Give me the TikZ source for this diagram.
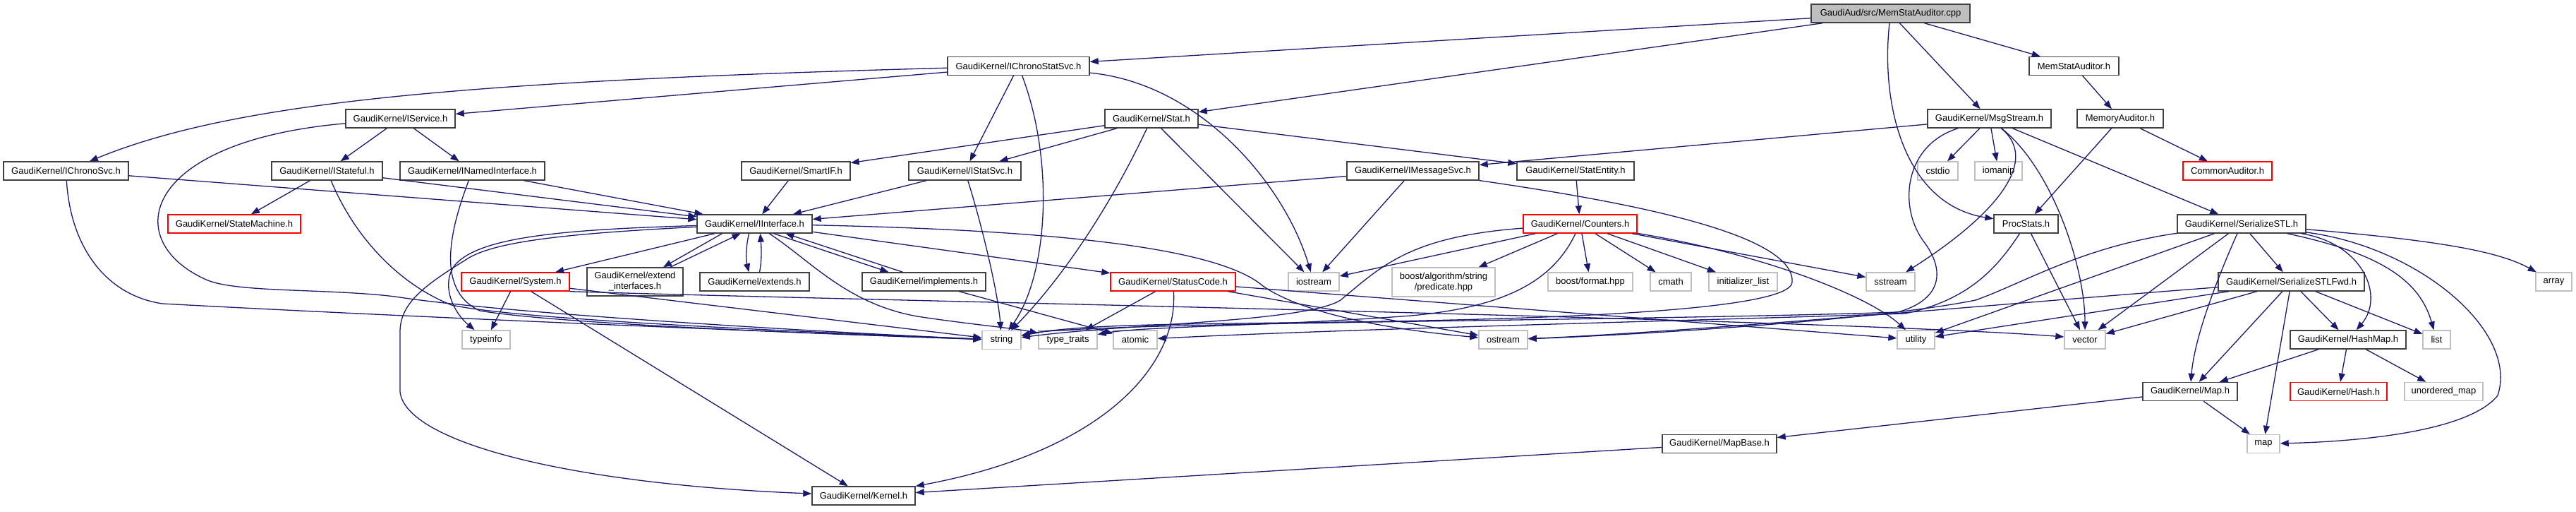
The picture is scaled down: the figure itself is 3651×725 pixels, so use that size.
\documentclass[tikz,border=0pt]{standalone}
\usepackage{fontspec}
\setmainfont{Liberation Sans}
\usetikzlibrary{arrows.meta}
\definecolor{edgeblue}{HTML}{191970}
\definecolor{greyline}{HTML}{BFBFBF}
\definecolor{redline}{HTML}{FF0000}
\definecolor{boxline}{HTML}{404040}
\definecolor{rootfill}{HTML}{BFBFBF}
\begin{document}
\begin{tikzpicture}[x=1pt,y=-1pt,
 nd/.style={draw=boxline, line width=1.4pt, fill=white, inner sep=0pt, font=\fontsize{13}{15}\selectfont, minimum height=26pt, align=center},
 sysn/.style={nd, draw=greyline},
 trn/.style={nd, draw=redline},
 dep/.style={draw=edgeblue, line width=1.3pt, -{Triangle[length=12pt,width=9pt]}},
]
\useasboundingbox[fill=white] (0,0) rectangle (3651,725);

% ---------- nodes ----------
\node[nd, fill=rootfill, minimum width=225pt] (root) at (2679.5,19) {GaudiAud/src/MemStatAuditor.cpp};
\node[nd, minimum width=201pt] (icss) at (1443.5,93.5) {GaudiKernel/IChronoStatSvc.h};
\node[nd, minimum width=127pt] (msah) at (2939.5,93.5) {MemStatAuditor.h};
\node[nd, minimum width=155pt] (isvc) at (567.5,168) {GaudiKernel/IService.h};
\node[nd, minimum width=132pt] (stat) at (1632,168) {GaudiKernel/Stat.h};
\node[nd, minimum width=175pt] (msg) at (2819.5,168) {GaudiKernel/MsgStream.h};
\node[nd, minimum width=122pt] (mema) at (3005,168) {MemoryAuditor.h};
\node[nd, minimum width=177pt] (icsvc) at (93.5,242) {GaudiKernel/IChronoSvc.h};
\node[nd, minimum width=157pt] (istf) at (463.5,242) {GaudiKernel/IStateful.h};
\node[nd, minimum width=205pt] (inam) at (669.5,242) {GaudiKernel/INamedInterface.h};
\node[nd, minimum width=154pt] (smart) at (1128,242) {GaudiKernel/SmartIF.h};
\node[nd, minimum width=159pt] (istat) at (1367.5,242) {GaudiKernel/IStatSvc.h};
\node[nd, minimum width=187pt] (imsg) at (2002.5,242) {GaudiKernel/IMessageSvc.h};
\node[nd, minimum width=166pt] (sent) at (2233,242) {GaudiKernel/StatEntity.h};
\node[sysn, minimum width=57pt] (cstdio) at (2746.5,242) {cstdio};
\node[sysn, minimum width=67pt] (iomanip) at (2832.5,242) {iomanip};
\node[trn, minimum width=126pt] (comm) at (3157,242) {CommonAuditor.h};
\node[trn, minimum width=188pt] (smach) at (332,317) {GaudiKernel/StateMachine.h};
\node[nd, minimum width=163pt] (iif) at (1069.5,317) {GaudiKernel/IInterface.h};
\node[trn, minimum width=161pt] (count) at (2239.5,317) {GaudiKernel/Counters.h};
\node[nd, minimum width=91pt] (proc) at (2871.5,317) {ProcStats.h};
\node[nd, minimum width=182pt] (sstl) at (3177,317) {GaudiKernel/SerializeSTL.h};
\node[trn, minimum width=153pt] (sys) at (730.5,399) {GaudiKernel/System.h};
\node[nd, minimum width=136pt, minimum height=40pt] (extif) at (900,399) {GaudiKernel/extend\\\_interfaces.h};
\node[nd, minimum width=155pt] (exts) at (1069.5,399) {GaudiKernel/extends.h};
\node[nd, minimum width=175pt] (impl) at (1309.5,399) {GaudiKernel/implements.h};
\node[trn, minimum width=177pt] (stc) at (1662.5,399) {GaudiKernel/StatusCode.h};
\node[sysn, minimum width=72pt] (iostr) at (1862,399) {iostream};
\node[sysn, minimum width=146pt, minimum height=41pt] (pred) at (2046,399.5) {boost/algorithm/string\\/predicate.hpp};
\node[sysn, minimum width=120pt] (fmt) at (2254,399) {boost/format.hpp};
\node[sysn, minimum width=58pt] (cmath) at (2368,399) {cmath};
\node[sysn, minimum width=97pt] (initl) at (2470.5,399) {initializer\_list};
\node[sysn, minimum width=69pt] (sstr) at (2679.5,399) {sstream};
\node[nd, minimum width=207pt] (sfwd) at (3247.5,399) {GaudiKernel/SerializeSTLFwd.h};
\node[sysn, minimum width=51pt] (arr) at (3619.5,399) {array};
\node[sysn, minimum width=68pt] (tinfo) at (689,481) {typeinfo};
\node[sysn, minimum width=55pt] (str) at (1419.5,481.5) {string};
\node[sysn, minimum width=83pt] (ttr) at (1513.5,481) {type\_traits};
\node[sysn, minimum width=62pt] (atom) at (1609,481) {atomic};
\node[sysn, minimum width=69pt] (ostr) at (2130.5,481) {ostream};
\node[sysn, minimum width=53pt] (util) at (2715.5,481) {utility};
\node[sysn, minimum width=58pt] (vec) at (2955,481) {vector};
\node[nd, minimum width=164pt] (hmap) at (3328,481) {GaudiKernel/HashMap.h};
\node[sysn, minimum width=39pt] (lst) at (3453.5,481) {list};
\node[nd, minimum width=134pt] (gmap) at (3104,554.5) {GaudiKernel/Map.h};
\node[trn, minimum width=137pt] (hash) at (3314.5,554.5) {GaudiKernel/Hash.h};
\node[sysn, minimum width=111pt] (umap) at (3463.5,554.5) {unordered\_map};
\node[nd, minimum width=162pt] (mapb) at (2437,628.5) {GaudiKernel/MapBase.h};
\node[sysn, minimum width=46pt] (smap) at (3208,628.5) {map};
\node[nd, minimum width=146pt] (kern) at (1224,702) {GaudiKernel/Kernel.h};

% ---------- edges ----------
% root
\draw[dep] (root) -- (icss);
\draw[dep] (root) -- (stat);
\draw[dep] (root) -- (msg);
\draw[dep] (root) -- (msah);
\draw[dep] (root) .. controls (2665,150) and (2700,290) .. (proc);
% IChronoStatSvc
\draw[dep] (icss) -- (isvc);
\draw[dep] (icss) .. controls (650,115) and (330,145) .. (icsvc);
\draw[dep] (icss) -- (istat);
\draw[dep] (icss) .. controls (1495,230) and (1485,390) .. (str);
\draw[dep] (icss) .. controls (1700,118) and (1820,260) .. (iostr);
% Stat
\draw[dep] (stat) -- (smart);
\draw[dep] (stat) -- (istat);
\draw[dep] (stat) -- (sent);
\draw[dep] (stat) .. controls (1570,300) and (1500,400) .. (str);
\draw[dep] (stat) -- (iostr);
% MsgStream
\draw[dep] (msg) -- (imsg);
\draw[dep] (msg) -- (cstdio);
\draw[dep] (msg) -- (iomanip);
\draw[dep] (msg) -- (sstl);
\draw[dep] (msg) .. controls (2895,230) and (2820,310) .. (sstr);
\draw[dep] (msg) .. controls (2910,240) and (2955,380) .. (vec);
\draw[dep] (msg) .. controls (2700,205) and (2690,290) .. (2725,340) .. controls (2760,385) and (2750,425) .. (2690,442) .. controls (2300,455) and (1530,456) .. (str);
% auditors
\draw[dep] (msah) -- (mema);
\draw[dep] (mema) -- (comm);
\draw[dep] (mema) -- (proc);
\draw[dep] (proc) -- (vec);
\draw[dep] (proc) .. controls (2830,380) and (2790,425) .. (2700,444) .. controls (2400,454) and (1900,466) .. (atom);
% IMessageSvc
\draw[dep] (imsg) -- (iif);
\draw[dep] (imsg) -- (iostr);
\draw[dep] (imsg) .. controls (2300,285) and (2545,330) .. (2540,400) .. controls (2535,440) and (2200,452) .. (1900,456) .. controls (1700,459) and (1530,458) .. (str);
\draw[dep] (sent) -- (count);
% Counters
\draw[dep] (count) -- (iostr);
\draw[dep] (count) .. controls (2000,335) and (1960,375) .. (1900,425) .. controls (1850,456) and (1600,458) .. (str);
\draw[dep] (count) -- (pred);
\draw[dep] (count) .. controls (2200,400) and (2130,435) .. (2000,447) .. controls (1800,462) and (1620,462) .. (ttr);
\draw[dep] (count) -- (fmt);
\draw[dep] (count) -- (cmath);
\draw[dep] (count) -- (initl);
\draw[dep] (count) -- (sstr);
\draw[dep] (count) .. controls (2500,360) and (2650,420) .. (util);
% upper left interfaces
\draw[dep] (isvc) -- (istf);
\draw[dep] (isvc) -- (inam);
\draw[dep] (isvc) .. controls (200,200) and (170,340) .. (290,395) .. controls (330,415) and (460,408) .. (560,420) .. controls (720,445) and (1200,472) .. (str);
\draw[dep] (icsvc) -- (iif);
\draw[dep] (icsvc) .. controls (100,350) and (150,418) .. (230,430) .. controls (600,450) and (1100,470) .. (str);
\draw[dep] (istf) -- (smach);
\draw[dep] (istf) -- (iif);
\draw[dep] (istf) .. controls (500,330) and (560,400) .. (640,432) .. controls (750,455) and (1200,472) .. (str);
\draw[dep] (inam) -- (iif);
\draw[dep] (inam) .. controls (640,320) and (615,410) .. (680,440) .. controls (800,460) and (1200,474) .. (str);
\draw[dep] (smart) -- (iif);
\draw[dep] (istat) -- (iif);
\draw[dep] (istat) .. controls (1395,330) and (1415,420) .. (str);
% IInterface
\draw[dep] (iif) -- (sys);
\draw[dep] ([xshift=-46pt]iif.south) -- ([xshift=40pt]extif.north);
\draw[dep] ([xshift=50pt]extif.north) -- ([xshift=-20pt]iif.south);
\draw[dep] ([xshift=-8pt]iif.south) .. controls (1057,350) and (1057,368) .. ([xshift=-8pt]exts.north);
\draw[dep] ([xshift=7pt]exts.north) .. controls (1080,368) and (1079,350) .. ([xshift=8pt]iif.south);
\draw[dep] ([xshift=27pt]iif.south) -- ([xshift=-50pt]impl.north);
\draw[dep] ([xshift=-30pt]impl.north) -- ([xshift=44pt]iif.south);
\draw[dep] (iif) .. controls (1150,370) and (1200,430) .. (1300,448) .. controls (1380,460) and (1440,465) .. (ttr);
\draw[dep] (iif) .. controls (1450,325) and (1720,345) .. (1790,405) .. controls (1840,440) and (1950,465) .. (ostr);
\draw[dep] (iif) -- (stc);
\draw[dep] (iif) .. controls (800,325) and (680,335) .. (645,375) .. controls (625,400) and (640,440) .. (tinfo);
\draw[dep] (iif) .. controls (820,330) and (700,340) .. (660,368) .. controls (600,405) and (567,430) .. (567,470) -- (567,555) .. controls (575,625) and (800,685) .. (kern);
\draw[dep] (impl) -- (atom);
% System
\draw[dep] (sys) -- (tinfo);
\draw[dep] (sys) -- (kern);
\draw[dep] (sys) -- (str);
\draw[dep] (sys.south east) .. controls (1200,425) and (2600,452) .. ([yshift=4pt]vec.west);
% StatusCode
\draw[dep] (stc) -- (ttr);
\draw[dep] (stc) .. controls (1670,520) and (1560,640) .. (kern);
\draw[dep] (stc) -- (ostr);
\draw[dep] (stc) -- (util);
% SerializeSTL
\draw[dep] (sstl) -- (sfwd);
\draw[dep] (sstl) -- (util);
\draw[dep] (sstl) -- (vec);
\draw[dep] (sstl) .. controls (3140,400) and (3110,480) .. (gmap);
\draw[dep] (sstl) .. controls (2950,350) and (2870,400) .. (2800,425) .. controls (2650,455) and (2300,475) .. (ostr);
\draw[dep] (sstl) .. controls (3350,345) and (3380,420) .. (hmap);
\draw[dep] (sstl) .. controls (3380,360) and (3430,400) .. (lst);
\draw[dep] (sstl) .. controls (3430,350) and (3570,470) .. (3540,560) .. controls (3500,610) and (3350,625) .. (smap);
\draw[dep] (sstl) .. controls (3450,340) and (3540,355) .. (arr);
% SerializeSTLFwd
\draw[dep] (sfwd) .. controls (2900,425) and (2400,470) .. (ostr);
\draw[dep] (sfwd) -- (util);
\draw[dep] (sfwd) -- (vec);
\draw[dep] (sfwd) -- (gmap);
\draw[dep] (sfwd) -- (smap);
\draw[dep] (sfwd) -- (hmap);
\draw[dep] (sfwd) -- (lst);
% maps
\draw[dep] (hmap) -- (gmap);
\draw[dep] (hmap) -- (hash);
\draw[dep] (hmap) -- (umap);
\draw[dep] (gmap) -- (smap);
\draw[dep] (gmap) -- (mapb);
\draw[dep] (mapb) -- (kern);
\end{tikzpicture}
\end{document}
